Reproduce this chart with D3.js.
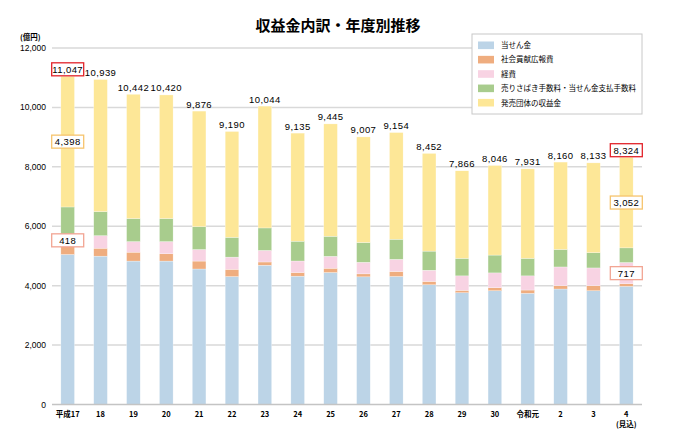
<!DOCTYPE html>
<html>
<head>
<meta charset="utf-8">
<script src="https://cdn.jsdelivr.net/npm/d3@7"></script>
<style>
  body { margin:0; background:#fff; }
  text { font-family:"Noto Sans CJK JP","Noto Sans",sans-serif; }
  .num { font-family:"Liberation Sans",Arial,sans-serif; }
</style>
</head>
<body>
<script>
var years = ['平成17','18','19','20','21','22','23','24','25','26','27','28','29','30','令和元','2','3','4'];
var totals = [11047,10939,10442,10420,9876,9190,10044,9135,9445,9007,9154,8452,7866,8046,7931,8160,8133,8324];
// series, bottom to top
var prize   = [5050,4994,4828,4828,4561,4306,4687,4320,4443,4297,4310,4030,3763,3830,3743,3887,3830,3977];
var social  = [267,267,299,244,267,244,110,123,144,100,167,113,80,100,110,110,167,86];
var expense = [418,422,356,411,389,411,390,387,400,390,410,377,487,500,477,633,600,717];
var fees    = [914,811,778,778,766,667,756,667,676,666,676,643,590,600,590,590,513,492];
var profit  = [4398,4445,4181,4159,3893,3562,4101,3638,3782,3554,3591,3289,2946,3016,3011,2940,3023,3052];
var yTicks = [0,2000,4000,6000,8000,10000,12000];
var keys = ['prize','social','expense','fees','profit'];
var names = ['当せん金','社会貢献広報費','経費','売りさばき手数料・当せん金支払手数料','発売団体の収益金'];
var colors = ['#bcd4e7','#efad7f','#f8d3e3','#a8cc8d','#fde797'];
var callouts = [0,17];

var rows = years.map(function(y,i){
  return {year:y, total:totals[i], prize:prize[i], social:social[i], expense:expense[i], fees:fees[i], profit:profit[i]};
});

var svg = d3.select('body').append('svg').attr('width',677).attr('height',430);

var x = d3.scaleBand().domain(years).range([52,642]).paddingInner(0.585).paddingOuter(0.27);
var y = d3.scaleLinear().domain([0,12000]).range([404.5,48]);
var color = d3.scaleOrdinal().domain(keys).range(colors);

// title
svg.append('text').attr('x',338).attr('y',31).attr('text-anchor','middle')
  .style('font-size','15px').style('font-weight','bold').text('収益金内訳・年度別推移');

// grid
svg.append('g').selectAll('line').data(yTicks.slice(1)).enter().append('line')
  .attr('x1',52).attr('x2',642)
  .attr('y1',function(d){return y(d);}).attr('y2',function(d){return y(d);})
  .style('stroke','#d9d9d9').style('stroke-width',1.5);

svg.append('g').selectAll('text').data(yTicks).enter().append('text').attr('class','num')
  .attr('x',46).attr('y',function(d){return y(d)+3;}).attr('text-anchor','end')
  .style('font-size','8.5px').text(function(d){return d3.format(',')(d);});

svg.append('text').attr('x',20).attr('y',39.5).style('font-size','7.5px').style('font-weight','bold').text('(億円)');

// bars
var stack = d3.stack().keys(keys)(rows);
svg.append('g').selectAll('g').data(stack).enter().append('g')
  .style('fill',function(d){return color(d.key);})
  .selectAll('rect').data(function(d){return d;}).enter().append('rect')
  .attr('x',function(d){return x(d.data.year);})
  .attr('width',x.bandwidth())
  .attr('y',function(d){return y(d[1]);})
  .attr('height',function(d){return y(d[0])-y(d[1]);})
  .style('stroke','#fff').style('stroke-width',0.4).style('stroke-opacity',0.7);

// baseline
svg.append('line').attr('x1',52).attr('x2',642).attr('y1',y(0)).attr('y2',y(0))
  .style('stroke','#c4c4c4').style('stroke-width',1.5);

// x labels
svg.append('g').selectAll('text').data(years).enter().append('text')
  .attr('x',function(d){return x(d)+x.bandwidth()/2;}).attr('y',416.5)
  .attr('text-anchor','middle').style('font-size','7.5px').style('font-weight','bold')
  .text(function(d){return d;});
svg.append('text').attr('x',x('4')+x.bandwidth()/2).attr('y',426.5).attr('text-anchor','middle')
  .style('font-size','7.5px').style('font-weight','bold').text('(見込)');

// total labels
svg.append('g').selectAll('text').data(rows).enter().append('text').attr('class','num')
  .attr('x',function(d){return x(d.year)+x.bandwidth()/2;})
  .attr('y',function(d){return y(d.total)-3.5;})
  .attr('text-anchor','middle').style('font-size','9.5px').style('letter-spacing','0.4px')
  .text(function(d){return d3.format(',')(d.total);});

// callout boxes
function box(i, v, mid, border){
  var cx = x(years[i])+x.bandwidth()/2;
  svg.append('rect').attr('x',cx-16).attr('y',mid-6.5).attr('width',32).attr('height',13)
    .style('fill','#fff').style('stroke',border).style('stroke-width',1.3);
  svg.append('text').attr('class','num').attr('x',cx).attr('y',mid+3.5).attr('text-anchor','middle')
    .style('font-size','9.5px').style('letter-spacing','0.4px').text(d3.format(',')(v));
}
callouts.forEach(function(i){
  var d = rows[i];
  var base = d.prize+d.social;
  box(i, d.total, y(d.total)-7, '#e2232a');
  box(i, d.profit, y(d.total-d.profit/2), '#f6c46e');
  box(i, d.expense, y(base+d.expense/2), '#f2a593');
});

// legend
var lg = svg.append('g').attr('transform','translate(472,34)');
lg.append('rect').attr('width',170).attr('height',80).style('fill','#fff').style('stroke','#c8c8c8');
var item = lg.selectAll('.item').data(keys).enter().append('g')
  .attr('transform',function(d,i){return 'translate(6,'+(11.3+i*14.35)+')';});
item.append('rect').attr('y',-3.8).attr('width',16).attr('height',7.6)
  .style('fill',function(d){return color(d);});
item.append('text').attr('x',23).attr('y',2.8).style('font-size','7.5px')
  .text(function(d,i){return names[i];});
</script>
</body>
</html>
